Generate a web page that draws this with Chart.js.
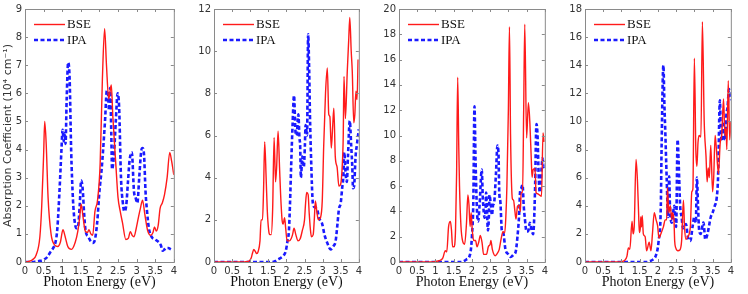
<!DOCTYPE html>
<html>
<head>
<meta charset="utf-8">
<script src="https://cdn.jsdelivr.net/npm/chart.js@4"></script>
<style>
  body { margin: 0; background: #fff; }
  #wrap { position: relative; width: 748px; height: 294px; overflow: hidden; }
  .panel { position: absolute; top: 0; height: 294px; }
</style>
</head>
<body>
<div id="wrap">
  <div class="panel" style="left:0;width:180px"><canvas id="c1"></canvas></div>
  <div class="panel" style="left:192px;width:173px"><canvas id="c2"></canvas></div>
  <div class="panel" style="left:377px;width:174px"><canvas id="c3"></canvas></div>
  <div class="panel" style="left:563px;width:174px"><canvas id="c4"></canvas></div>
</div>
<script>
// ----- Data: [photon energy (eV), absorption (10^4 cm^-1)] -----
const bse1 = [[0,0],[0.1,0.02],[0.2,0.08],[0.3,0.25],[0.4,0.9],[0.45,2.0],[0.5,3.8],[0.53,5.0],[0.57,4.2],[0.62,2.3],[0.7,1.0],[0.8,0.6],[0.88,0.55],[0.95,0.7],[1.02,1.15],[1.08,0.9],[1.15,0.55],[1.25,0.45],[1.35,0.7],[1.42,1.1],[1.47,1.6],[1.51,2.06],[1.56,1.6],[1.62,1.1],[1.68,1.05],[1.72,1.15],[1.77,1.0],[1.82,0.95],[1.88,1.8],[1.95,2.2],[2.02,3.5],[2.08,6.5],[2.14,8.3],[2.19,7.0],[2.25,5.8],[2.29,6.1],[2.32,6.3],[2.36,5.2],[2.44,3.5],[2.5,2.3],[2.56,1.8],[2.62,1.4],[2.71,0.8],[2.78,0.85],[2.83,1.08],[2.88,0.95],[2.93,0.9],[2.99,1.2],[3.05,1.6],[3.1,1.9],[3.16,2.2],[3.22,1.7],[3.3,1.1],[3.38,0.95],[3.44,1.05],[3.48,1.25],[3.53,1.1],[3.58,1.3],[3.63,1.9],[3.69,2.1],[3.75,2.4],[3.82,3.0],[3.89,3.9],[3.94,3.6],[4.0,3.1]];
const ipa1 = [[0,0],[0.2,0],[0.3,0.02],[0.4,0.04],[0.5,0.08],[0.6,0.18],[0.68,0.35],[0.76,0.5],[0.82,0.7],[0.87,1.2],[0.93,2.6],[0.98,4.0],[1.01,4.7],[1.04,4.3],[1.07,4.6],[1.09,4.2],[1.12,5.8],[1.16,7.1],[1.2,6.5],[1.24,4.0],[1.29,2.2],[1.33,1.5],[1.38,1.2],[1.43,1.3],[1.47,2.0],[1.51,2.9],[1.55,2.6],[1.59,1.7],[1.63,1.1],[1.7,0.9],[1.76,0.75],[1.82,0.68],[1.88,0.8],[1.94,1.4],[2.0,2.5],[2.06,3.3],[2.1,4.0],[2.15,5.0],[2.2,6.1],[2.23,6.0],[2.26,5.4],[2.29,6.2],[2.32,4.5],[2.34,3.3],[2.37,3.5],[2.4,4.0],[2.44,5.0],[2.49,6.0],[2.53,5.5],[2.58,3.0],[2.63,2.1],[2.67,1.8],[2.72,2.0],[2.77,2.9],[2.81,3.6],[2.87,3.9],[2.93,2.5],[2.97,2.3],[3.02,2.1],[3.07,3.0],[3.12,3.9],[3.16,4.05],[3.2,3.8],[3.24,2.5],[3.28,1.8],[3.33,1.2],[3.4,0.9],[3.5,0.8],[3.6,0.7],[3.65,0.6],[3.7,0.4],[3.75,0.45],[3.8,0.5],[3.85,0.5],[3.92,0.45]];

const bse2 = [[0,0],[0.8,0],[0.9,0.02],[0.97,0.05],[1.03,0.2],[1.06,0.4],[1.1,0.6],[1.14,0.5],[1.18,0.4],[1.22,0.5],[1.27,1.0],[1.3,2.0],[1.34,2.0],[1.37,3.5],[1.4,5.7],[1.44,4.0],[1.47,2.5],[1.51,1.5],[1.54,1.3],[1.58,1.3],[1.62,2.5],[1.66,5.9],[1.7,3.8],[1.73,4.5],[1.77,6.2],[1.81,4.5],[1.84,3.2],[1.88,2.0],[1.91,1.8],[1.95,2.1],[1.98,1.6],[2.02,1.0],[2.08,1.0],[2.13,1.1],[2.17,1.3],[2.21,1.6],[2.26,1.3],[2.32,1.0],[2.38,1.1],[2.44,1.5],[2.5,2.0],[2.53,2.8],[2.56,3.3],[2.6,3.2],[2.63,2.3],[2.66,1.6],[2.69,1.2],[2.74,1.3],[2.77,2.0],[2.8,2.9],[2.84,2.4],[2.88,2.0],[2.94,2.1],[2.99,2.9],[3.03,5.5],[3.08,8.0],[3.13,9.2],[3.17,7.0],[3.2,6.9],[3.24,5.4],[3.28,6.5],[3.31,7.3],[3.35,5.0],[3.4,4.5],[3.45,3.6],[3.5,3.7],[3.54,4.5],[3.57,6.0],[3.59,8.8],[3.63,6.8],[3.68,9.0],[3.72,10.5],[3.75,11.6],[3.79,10.0],[3.82,9.0],[3.86,6.6],[3.89,7.0],[3.92,8.1],[3.95,7.7],[3.98,9.6]];
const ipa2 = [[0,0],[1.6,0],[1.7,0.05],[1.75,0.1],[1.85,0.2],[1.92,0.3],[1.98,0.5],[2.03,1.0],[2.07,1.5],[2.1,2.8],[2.13,4.5],[2.17,6.5],[2.21,7.9],[2.25,6.2],[2.28,6.0],[2.33,7.0],[2.36,5.9],[2.38,5.5],[2.4,4.0],[2.44,5.0],[2.46,4.7],[2.48,4.5],[2.51,5.5],[2.53,6.5],[2.57,6.0],[2.6,10.8],[2.63,9.0],[2.65,7.0],[2.68,5.0],[2.73,2.8],[2.78,2.6],[2.85,2.5],[2.9,2.1],[2.99,1.8],[3.05,1.3],[3.13,0.9],[3.22,0.6],[3.3,0.75],[3.36,1.0],[3.41,1.8],[3.45,2.5],[3.5,2.8],[3.54,3.5],[3.57,4.0],[3.6,5.2],[3.63,4.3],[3.67,3.8],[3.7,5.0],[3.75,6.7],[3.79,5.5],[3.82,4.5],[3.84,3.5],[3.87,3.6],[3.91,5.0],[3.95,5.6],[4.0,6.3]];

const bse3 = [[0,0],[0.9,0],[1.0,0.05],[1.1,0.1],[1.2,0.3],[1.27,0.9],[1.31,0.8],[1.36,2.8],[1.41,3.2],[1.44,2.5],[1.47,1.2],[1.51,1.2],[1.55,2.5],[1.58,7.0],[1.61,14.6],[1.64,9.0],[1.66,6.0],[1.7,2.8],[1.75,1.6],[1.8,1.4],[1.85,3.0],[1.89,5.3],[1.92,4.5],[1.95,2.8],[1.98,3.9],[2.01,2.5],[2.05,1.7],[2.1,1.7],[2.14,1.2],[2.19,1.6],[2.23,2.1],[2.28,1.5],[2.32,0.6],[2.4,0.6],[2.45,1.2],[2.5,1.4],[2.52,1.7],[2.56,1.0],[2.64,0.5],[2.7,0.7],[2.75,1.0],[2.8,1.8],[2.85,2.4],[2.9,2.3],[2.93,3.5],[2.96,6.0],[3.0,12.0],[3.03,18.6],[3.06,10.0],[3.11,5.0],[3.14,4.9],[3.18,4.0],[3.21,3.4],[3.25,4.4],[3.29,4.5],[3.33,4.0],[3.35,5.5],[3.39,5.5],[3.42,12.0],[3.45,18.8],[3.5,9.8],[3.55,12.6],[3.59,11.0],[3.63,8.0],[3.65,6.7],[3.68,7.3],[3.73,7.4],[3.76,5.5],[3.8,5.4],[3.85,5.3],[3.91,5.2],[3.95,10.2],[3.98,9.5]];
const ipa3 = [[0,0],[1.7,0],[1.77,0.05],[1.85,0.2],[1.95,0.6],[2.0,2.0],[2.04,5.0],[2.07,12.3],[2.1,8.0],[2.14,4.0],[2.17,3.2],[2.21,4.5],[2.27,7.3],[2.3,5.0],[2.35,3.5],[2.38,4.5],[2.39,5.5],[2.44,2.5],[2.47,4.0],[2.48,5.3],[2.52,4.5],[2.55,3.7],[2.58,4.5],[2.61,4.7],[2.66,7.0],[2.7,9.2],[2.73,8.5],[2.75,5.5],[2.78,4.8],[2.82,2.5],[2.86,2.3],[2.92,1.0],[3.0,0.6],[3.06,0.4],[3.15,0.6],[3.2,0.8],[3.25,2.0],[3.3,4.0],[3.32,5.5],[3.35,5.8],[3.39,6.1],[3.42,4.5],[3.45,3.5],[3.5,2.4],[3.55,2.5],[3.59,3.1],[3.64,2.5],[3.68,2.2],[3.73,5.5],[3.77,10.9],[3.8,10.0],[3.83,7.0],[3.86,5.5],[3.89,6.5],[3.94,8.2],[3.97,7.5],[4.0,7.8]];

const bse4 = [[0,0],[0.9,0],[1.0,0.03],[1.08,0.1],[1.15,0.4],[1.19,1.0],[1.23,0.9],[1.29,2.9],[1.32,2.0],[1.35,2.5],[1.4,7.3],[1.44,5.7],[1.47,3.5],[1.49,2.1],[1.52,2.5],[1.53,3.2],[1.55,2.5],[1.57,3.3],[1.6,2.0],[1.65,1.8],[1.69,0.8],[1.76,1.4],[1.81,0.8],[1.85,2.0],[1.9,3.5],[1.95,3.0],[1.99,2.6],[2.03,1.7],[2.08,2.0],[2.15,2.5],[2.2,3.0],[2.24,3.0],[2.26,5.3],[2.3,3.5],[2.34,4.0],[2.38,3.0],[2.4,3.5],[2.44,3.0],[2.46,1.5],[2.49,1.0],[2.55,0.8],[2.6,0.85],[2.65,1.5],[2.7,4.4],[2.73,2.5],[2.77,1.6],[2.82,1.8],[2.89,2.5],[2.93,5.0],[2.96,5.2],[3.0,14.5],[3.04,8.0],[3.07,6.8],[3.1,8.5],[3.13,9.0],[3.18,8.9],[3.22,17.1],[3.27,10.0],[3.32,7.5],[3.35,5.7],[3.38,6.7],[3.41,6.0],[3.45,8.3],[3.5,5.0],[3.53,6.0],[3.57,9.0],[3.6,8.2],[3.66,6.3],[3.71,8.5],[3.75,9.0],[3.8,11.6],[3.84,9.0],[3.87,9.5],[3.89,8.0],[3.93,12.9],[3.97,8.7],[4.0,10.0]];
const ipa4 = [[0,0],[1.7,0],[1.76,0.05],[1.85,0.15],[1.95,0.5],[2.02,1.5],[2.08,4.0],[2.1,8.0],[2.15,14.0],[2.18,11.0],[2.2,9.5],[2.24,6.0],[2.28,3.2],[2.31,6.1],[2.33,4.0],[2.38,2.8],[2.45,4.0],[2.48,3.0],[2.5,2.5],[2.54,8.7],[2.57,7.0],[2.61,4.0],[2.65,3.2],[2.69,2.4],[2.77,2.7],[2.82,1.8],[2.89,1.5],[2.95,2.5],[3.0,3.2],[3.04,2.8],[3.07,6.0],[3.1,4.0],[3.13,2.3],[3.17,2.0],[3.25,2.8],[3.3,1.6],[3.36,2.0],[3.45,3.2],[3.5,3.5],[3.56,4.0],[3.61,4.5],[3.65,6.0],[3.7,11.5],[3.73,9.0],[3.77,8.6],[3.8,10.0],[3.84,8.7],[3.88,10.5],[3.91,11.0],[3.95,12.3],[4.0,11.5]];

const yMaxes = [9, 12, 20, 18];
const ySteps = [1, 2, 2, 2];
const yTitle = "Absorption Coefficient (10\u2074 cm\u207B\u00B9)";
const xTitle = "Photon Energy (eV)";
const serif = "'Liberation Serif', 'Times New Roman', serif";
const sans = "'DejaVu Sans', sans-serif";

// box around plot + inward tick marks
const framePlugin = {
  id: "frame",
  afterDatasetsDraw(chart) {
    const { ctx, chartArea: a, scales } = chart;
    ctx.save();
    ctx.strokeStyle = "#8a8a8a";
    ctx.lineWidth = 1;
    ctx.strokeRect(a.left + 0.5, a.top + 0.5, a.right - a.left, a.bottom - a.top);
    ctx.beginPath();
    scales.x.ticks.forEach(t => {
      const px = Math.round(scales.x.getPixelForValue(t.value)) + 0.5;
      ctx.moveTo(px, a.bottom); ctx.lineTo(px, a.bottom - 3);
      ctx.moveTo(px, a.top); ctx.lineTo(px, a.top + 3);
    });
    scales.y.ticks.forEach(t => {
      const py = Math.round(scales.y.getPixelForValue(t.value)) + 0.5;
      ctx.moveTo(a.left, py); ctx.lineTo(a.left + 3, py);
      ctx.moveTo(a.right, py); ctx.lineTo(a.right - 3, py);
    });
    ctx.stroke();
    ctx.restore();
  }
};

// small legend in the upper left of the plot, styled from the datasets
const legendPlugin = {
  id: "cornerLegend",
  afterDraw(chart) {
    const { ctx, chartArea: a } = chart;
    ctx.save();
    ctx.font = "13px " + serif;
    ctx.textBaseline = "middle";
    chart.data.datasets.forEach((ds, i) => {
      const y = a.top + 15.5 + i * 15.5;
      ctx.strokeStyle = ds.borderColor;
      ctx.lineWidth = ds.borderWidth;
      ctx.setLineDash(ds.borderDash || []);
      ctx.beginPath();
      ctx.moveTo(a.left + 9, y);
      ctx.lineTo(a.left + 40, y);
      ctx.stroke();
      ctx.fillStyle = "#111";
      ctx.fillText(ds.label, a.left + 42, y + 0.5);
    });
    ctx.restore();
  }
};

function makePanel(id, bse, ipa, idx) {
  const yW = idx === 0 ? 25 : 22;
  new Chart(document.getElementById(id), {
    type: "line",
    data: {
      datasets: [
        { label: "BSE", data: bse, borderColor: "#ff1a1a", backgroundColor: "rgba(0,0,0,0)",
          borderWidth: 1.4, pointRadius: 0, cubicInterpolationMode: "monotone" },
        { label: "IPA", data: ipa, borderColor: "#1a1aff", backgroundColor: "rgba(0,0,0,0)",
          borderWidth: 2.6, borderDash: [4, 2.5], pointRadius: 0, cubicInterpolationMode: "monotone" },
      ],
    },
    options: {
      responsive: true,
      maintainAspectRatio: false,
      animation: false,
      layout: { padding: { top: 5, right: 4, left: 0, bottom: 0 } },
      plugins: {
        tooltip: { enabled: false },
        legend: { display: false },
      },
      scales: {
        x: {
          type: "linear", min: 0, max: 4,
          grid: { display: false, drawTicks: false },
          border: { display: false },
          ticks: { stepSize: 0.5, padding: 3, autoSkip: false, maxRotation: 0, minRotation: 0,
                   callback: v => String(v),
                   color: "#333", font: { family: sans, size: 10 } },
          title: { display: true, text: xTitle, color: "#111", padding: { top: 0, bottom: 3 },
                   font: { family: serif, size: 14 } },
          afterFit: s => { s.height = 32; },
        },
        y: {
          min: 0, max: yMaxes[idx],
          grid: { display: false, drawTicks: false },
          border: { display: false },
          ticks: { stepSize: ySteps[idx], padding: 3, color: "#333", font: { family: sans, size: 10 } },
          title: { display: idx === 0, text: yTitle, color: "#333", padding: { top: 2, bottom: 0 },
                   font: { family: sans, size: 11 } },
          afterFit: s => { s.width = yW; },
        },
      },
    },
    plugins: [framePlugin, legendPlugin],
  });
}

makePanel("c1", bse1, ipa1, 0);
makePanel("c2", bse2, ipa2, 1);
makePanel("c3", bse3, ipa3, 2);
makePanel("c4", bse4, ipa4, 3);
</script>
</body>
</html>
